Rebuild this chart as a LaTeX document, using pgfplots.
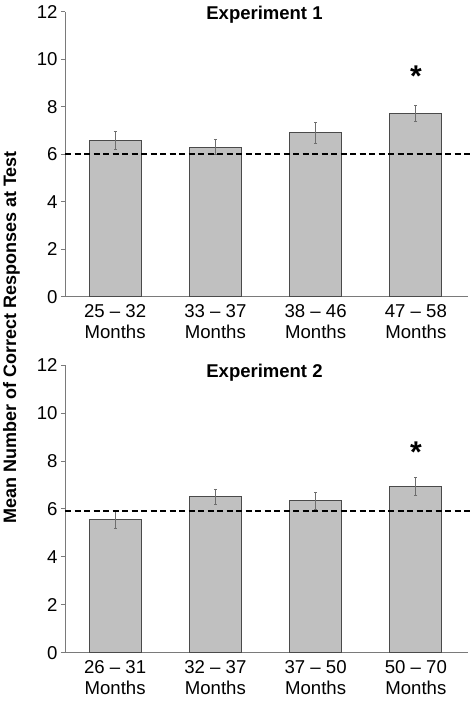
\documentclass[border=0pt]{standalone}
\usepackage{pgfplots}
\pgfplotsset{compat=1.18}
\usepackage{fontspec}
\setmainfont{Liberation Sans}
\definecolor{barfill}{HTML}{C0C0C0}
\definecolor{baredge}{HTML}{4A4A4A}
\definecolor{axisgray}{HTML}{7A7A7A}
\definecolor{errgray}{HTML}{6E6E6E}
\pgfplotstableread{
x y e
0 6.57 0.38
1 6.30 0.32
2 6.90 0.43
3 7.72 0.33
}\expone
\pgfplotstableread{
x y e
0 5.54 0.37
1 6.50 0.33
2 6.33 0.36
3 6.95 0.37
}\exptwo
\pgfplotsset{
  exp/.style={
    scale only axis, width=403pt,
    xmin=-0.5, xmax=3.52, ymin=0, ymax=12,
    axis x line*=bottom, axis y line*=left,
    axis line style={axisgray, line width=0.9pt},
    ytick={0,2,...,12}, xtick={0,1,2,3},
    xtick style={draw=none},
    ytick style={axisgray, line width=0.8pt},
    tick align=outside, major tick length=4pt,
    tick label style={font=\fontsize{18.6}{21.5}\selectfont},
    xticklabel style={align=center},
    /pgf/number format/assume math mode=true,
    clip=false,
  },
  barst/.style={ybar, bar width=52pt, fill=barfill, draw=baredge, line width=0.9pt,
    error bars/.cd, y dir=both, y explicit,
    error bar style={errgray, line width=0.8pt},
    error mark options={rotate=90, errgray, mark size=1.6pt, line width=0.8pt}},
  dashst/.style={black, line width=1.6pt, dash pattern=on 6pt off 3.5pt},
}
\begin{document}
\begin{tikzpicture}
\path[use as bounding box] (-65pt,296.7pt) rectangle (411pt,-404.3pt);
\begin{axis}[exp, at={(0,0)}, height=285pt,
  xticklabels={25 – 32\\Months, 33 – 37\\Months, 38 – 46\\Months, 47 – 58\\Months}]
\addplot[barst] table[x=x, y=y, y error=e] {\expone};
\addplot[dashst] coordinates {(-0.5,6) (3.55,6)};
\node[font=\bfseries\fontsize{18.5}{22}\selectfont] at (axis cs:1.49,11.86) {Experiment 1};
\node[font=\bfseries\fontsize{30}{30}\selectfont, anchor=base] at (axis cs:3,8.85) {*};
\end{axis}
\begin{axis}[exp, at={(0,-356pt)}, height=287.7pt,
  xticklabels={26 – 31\\Months, 32 – 37\\Months, 37 – 50\\Months, 50 – 70\\Months}]
\addplot[barst] table[x=x, y=y, y error=e] {\exptwo};
\addplot[dashst] coordinates {(-0.5,5.92) (3.55,5.92)};
\node[font=\bfseries\fontsize{18.5}{22}\selectfont] at (axis cs:1.49,11.66) {Experiment 2};
\node[font=\bfseries\fontsize{30}{30}\selectfont, anchor=base] at (axis cs:3,7.95) {*};
\end{axis}
\node[rotate=90, font=\bfseries\fontsize{18}{22}\selectfont] at (-53.5pt,-40.8pt) {Mean Number of Correct Responses at Test};
\end{tikzpicture}
\end{document}
